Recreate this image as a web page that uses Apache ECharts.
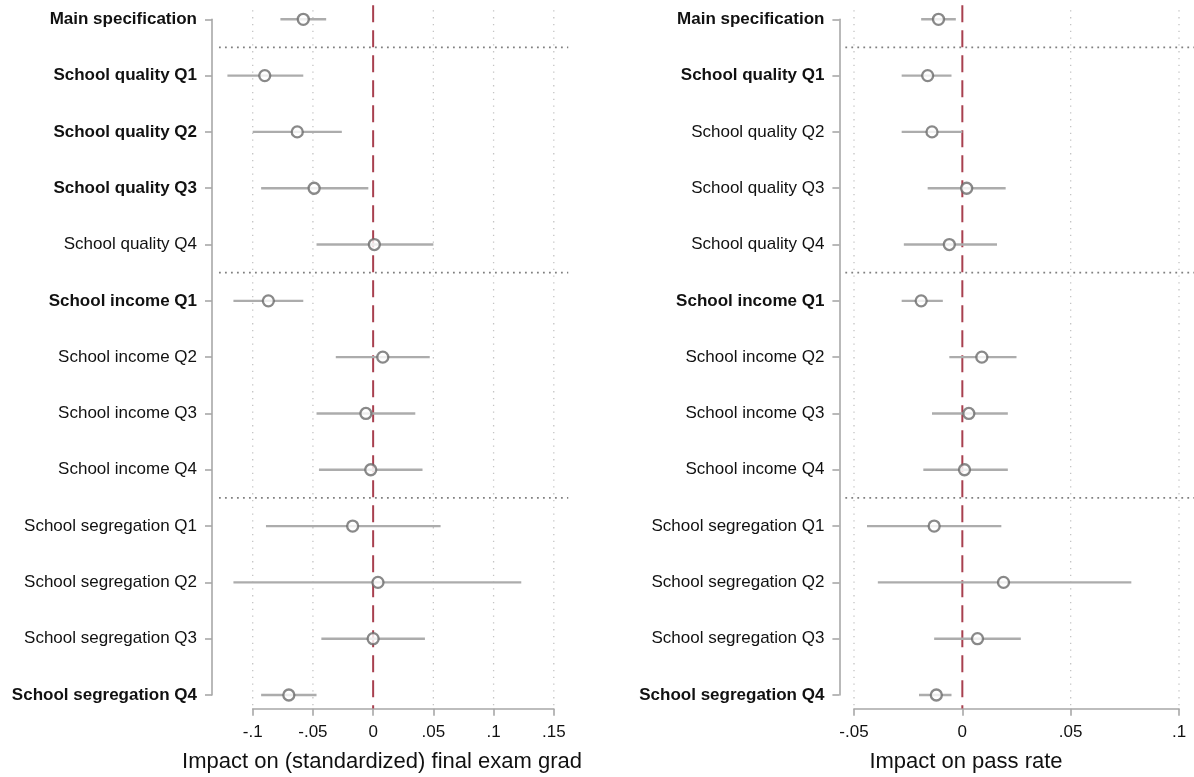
<!DOCTYPE html>
<html>
<head>
<meta charset="utf-8">
<script src="https://cdn.jsdelivr.net/npm/echarts@6/dist/echarts.min.js"></script>
<style>
  html, body { margin: 0; padding: 0; background: #fff; }
  #chart { width: 1194px; height: 777px; }
</style>
</head>
<body>
<div id="chart"></div>
<script>
// rows, top to bottom
const rows = [
  "Main specification",
  "School quality Q1", "School quality Q2", "School quality Q3", "School quality Q4",
  "School income Q1", "School income Q2", "School income Q3", "School income Q4",
  "School segregation Q1", "School segregation Q2", "School segregation Q3", "School segregation Q4",
];
const boldGrade = [1, 1, 1, 1, 0, 1, 0, 0, 0, 0, 0, 0, 1];
const boldPass = [1, 1, 0, 0, 0, 1, 0, 0, 0, 0, 0, 0, 1];
const separators = [0.5, 4.5, 8.5];

// impact on (standardized) final exam grade
const gradeCoef = [-0.058, -0.090, -0.063, -0.049, 0.001, -0.087, 0.008, -0.006, -0.002, -0.017, 0.004, 0.000, -0.070];
const gradeLo = [-0.077, -0.121, -0.100, -0.093, -0.047, -0.116, -0.031, -0.047, -0.045, -0.089, -0.116, -0.043, -0.093];
const gradeHi = [-0.039, -0.058, -0.026, -0.004, 0.050, -0.058, 0.047, 0.035, 0.041, 0.056, 0.123, 0.043, -0.047];
const gradeTicks = [-0.1, -0.05, 0, 0.05, 0.1, 0.15];
const gradeTickLabels = ["-.1", "-.05", "0", ".05", ".1", ".15"];

// impact on pass rate
const passCoef = [-0.011, -0.016, -0.014, 0.002, -0.006, -0.019, 0.009, 0.003, 0.001, -0.013, 0.019, 0.007, -0.012];
const passLo = [-0.019, -0.028, -0.028, -0.016, -0.027, -0.028, -0.006, -0.014, -0.018, -0.044, -0.039, -0.013, -0.020];
const passHi = [-0.003, -0.005, 0.000, 0.020, 0.016, -0.009, 0.025, 0.021, 0.021, 0.018, 0.078, 0.027, -0.005];
const passTicks = [-0.05, 0, 0.05, 0.1];
const passTickLabels = ["-.05", "0", ".05", ".1"];

const textColor = "#111111";
const axisColor = "#a8a8a8";
const font = "Liberation Sans, Arial, sans-serif";

const panels = [
  {
    title: "Impact on (standardized) final exam grad", titleX: 382,
    coef: gradeCoef, lo: gradeLo, hi: gradeHi, bold: boldGrade,
    ticks: gradeTicks, tickLabels: gradeTickLabels,
    grid: { left: 252.7, right: 640.2, top: 19.3, bottom: 82 },
    yOffset: 40.7, sepFrom: -0.128, sepTo: 0.162,
  },
  {
    title: "Impact on pass rate", titleX: 966,
    coef: passCoef, lo: passLo, hi: passHi, bold: boldPass,
    ticks: passTicks, tickLabels: passTickLabels,
    grid: { left: 854, right: 15, top: 19.3, bottom: 82 },
    yOffset: 14.6, sepFrom: -0.054, sepTo: 0.108,
  },
];

const chart = echarts.init(document.getElementById("chart"), null, { renderer: "canvas" });

const grids = [], xAxes = [], yAxes = [], series = [], graphics = [];

panels.forEach((p, i) => {
  grids.push(p.grid);
  xAxes.push({
    type: "value", gridIndex: i, position: "bottom",
    min: p.ticks[0], max: p.ticks[p.ticks.length - 1], interval: 0.05,
    offset: 13.7,
    axisLine: { show: true, onZero: false, lineStyle: { color: axisColor, width: 1.6 } },
    axisTick: { show: true, length: 7, lineStyle: { color: axisColor, width: 1.6 } },
    axisLabel: {
      color: textColor, fontSize: 17, fontFamily: font, margin: 15,
      formatter: (v) => {
        const k = p.ticks.findIndex((t) => Math.abs(t - v) < 1e-9);
        return k >= 0 ? p.tickLabels[k] : "";
      },
    },
    splitLine: { show: false },
  });
  yAxes.push({
    type: "value", gridIndex: i, inverse: true, position: "left",
    min: 0, max: rows.length - 1, interval: 1,
    offset: p.yOffset,
    axisLine: { show: true, onZero: false, lineStyle: { color: axisColor, width: 1.6 } },
    axisTick: { show: true, length: 7, lineStyle: { color: axisColor, width: 1.6 } },
    axisLabel: {
      margin: 15,
      formatter: (v) => {
        const name = rows[v];
        if (name === undefined) return "";
        return p.bold[v] ? "{b|" + name + "}" : "{n|" + name + "}";
      },
      rich: {
        b: { color: textColor, fontSize: 17, fontWeight: "bold", fontFamily: font },
        n: { color: textColor, fontSize: 17, fontFamily: font },
      },
    },
    splitLine: { show: false },
  });

  // vertical dotted grid lines at ticks (zero gets the dashed reference line)
  series.push({
    type: "custom", xAxisIndex: i, yAxisIndex: i, clip: false, silent: true, z: 1,
    data: p.ticks.filter((t) => t !== 0),
    renderItem: (params, api) => {
      const a = api.coord([api.value(0), -0.16]);
      const b = api.coord([api.value(0), 12.24]);
      return {
        type: "line",
        shape: { x1: a[0], y1: a[1], x2: b[0], y2: b[1] },
        style: { stroke: "#c4c4c4", lineWidth: 1.3, lineDash: [1.3, 5.5] },
      };
    },
  });
  // horizontal dotted separators between blocks
  series.push({
    type: "custom", xAxisIndex: i, yAxisIndex: i, clip: false, silent: true, z: 2,
    data: separators,
    renderItem: (params, api) => {
      const a = api.coord([p.sepFrom, api.value(0)]);
      const b = api.coord([p.sepTo, api.value(0)]);
      return {
        type: "line",
        shape: { x1: a[0], y1: a[1], x2: b[0], y2: b[1] },
        style: { stroke: "#808080", lineWidth: 1.8, lineDash: [1.8, 4.2] },
      };
    },
  });
  // zero reference line
  series.push({
    type: "custom", xAxisIndex: i, yAxisIndex: i, clip: false, silent: true, z: 3,
    data: [0],
    renderItem: (params, api) => {
      const a = api.coord([api.value(0), -0.25]);
      const b = api.coord([api.value(0), 12.24]);
      return {
        type: "line",
        shape: { x1: a[0], y1: a[1], x2: b[0], y2: b[1] },
        style: { stroke: "#a8404f", lineWidth: 2, lineDash: [17, 8] },
      };
    },
  });
  // confidence intervals
  series.push({
    type: "custom", xAxisIndex: i, yAxisIndex: i, clip: false, z: 4,
    data: rows.map((r, k) => [p.lo[k], p.hi[k], k]),
    encode: { x: [0, 1], y: 2 },
    renderItem: (params, api) => {
      const a = api.coord([api.value(0), api.value(2)]);
      const b = api.coord([api.value(1), api.value(2)]);
      return {
        type: "line",
        shape: { x1: a[0], y1: a[1], x2: b[0], y2: b[1] },
        style: { stroke: "#acacac", lineWidth: 2.4 },
      };
    },
  });
  // point estimates
  series.push({
    type: "scatter", xAxisIndex: i, yAxisIndex: i, z: 5,
    symbol: "circle", symbolSize: 11,
    itemStyle: { color: "#ffffff", borderColor: "#6c6c6c", borderWidth: 2.3 },
    data: rows.map((r, k) => [p.coef[k], k]),
  });

  graphics.push({
    type: "text", x: p.titleX, y: 762,
    style: {
      text: p.title, fill: textColor,
      font: "22px " + font, textAlign: "center", textVerticalAlign: "middle",
    },
  });
});

const option = {
  animation: false,
  grid: grids,
  xAxis: xAxes,
  yAxis: yAxes,
  series: series,
  graphic: graphics,
};
chart.setOption(option);
</script>
</body>
</html>
